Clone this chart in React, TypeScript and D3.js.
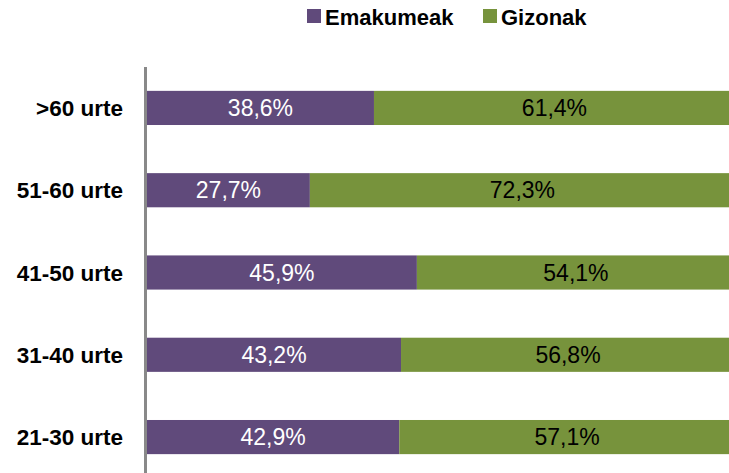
import React, { useEffect, useRef } from 'react';
import * as d3 from 'd3';

const categories = ['>60 urte', '51-60 urte', '41-50 urte', '31-40 urte', '21-30 urte'];
const emakumeak = [38.6, 27.7, 45.9, 43.2, 42.9];
const gizonak = [61.4, 72.3, 54.1, 56.8, 57.1];
const seriesNames = ['Emakumeak', 'Gizonak'];
const colors = ['#604A7B', '#77933C'];

const fmt = (v: number) => v.toFixed(1).replace('.', ',') + '%';

const App = () => {
  const svgRef = useRef<SVGSVGElement>(null);

  useEffect(() => {
    const svg = d3.select(svgRef.current);
    svg.selectAll('*').remove();

    const height = 473;
    const font = 'Liberation Sans, Arial, sans-serif';

    const x = d3.scaleLinear().domain([0, 100]).range([147, 735]);
    const y = d3.scaleBand()
      .domain(categories)
      .range([67, 478])
      .paddingInner(0.585)
      .paddingOuter(0.29);

    const rows = categories.map((c, i) => ({ cat: c, a: emakumeak[i], b: gizonak[i] }));

    const g = svg.append('g');

    // purple segment
    g.selectAll('rect.a')
      .data(rows)
      .enter().append('rect')
      .attr('class', 'a')
      .attr('x', x(0))
      .attr('y', d => y(d.cat)!)
      .attr('width', d => x(d.a) - x(0))
      .attr('height', y.bandwidth())
      .attr('fill', colors[0]);

    // green segment
    g.selectAll('rect.b')
      .data(rows)
      .enter().append('rect')
      .attr('class', 'b')
      .attr('x', d => x(d.a))
      .attr('y', d => y(d.cat)!)
      .attr('width', d => x(d.a + d.b) - x(d.a))
      .attr('height', y.bandwidth())
      .attr('fill', colors[1]);

    // value labels
    g.selectAll('text.la')
      .data(rows)
      .enter().append('text')
      .attr('x', d => (x(0) + x(d.a)) / 2)
      .attr('y', d => y(d.cat)! + y.bandwidth() / 2)
      .attr('dy', '0.36em')
      .attr('text-anchor', 'middle')
      .attr('fill', '#fff')
      .style('font-family', font)
      .style('font-size', '23px')
      .text(d => fmt(d.a));

    g.selectAll('text.lb')
      .data(rows)
      .enter().append('text')
      .attr('x', d => (x(d.a) + x(d.a + d.b)) / 2)
      .attr('y', d => y(d.cat)! + y.bandwidth() / 2)
      .attr('dy', '0.36em')
      .attr('text-anchor', 'middle')
      .attr('fill', '#000')
      .style('font-family', font)
      .style('font-size', '23px')
      .text(d => fmt(d.b));

    // category labels
    g.selectAll('text.cat')
      .data(categories)
      .enter().append('text')
      .attr('x', 123)
      .attr('y', d => y(d)! + y.bandwidth() / 2)
      .attr('dy', '0.36em')
      .attr('text-anchor', 'end')
      .attr('fill', '#000')
      .style('font-family', font)
      .style('font-size', '22.5px')
      .style('font-weight', 'bold')
      .text(d => d);

    // axis line
    svg.append('line')
      .attr('x1', 145.5)
      .attr('x2', 145.5)
      .attr('y1', 67)
      .attr('y2', height)
      .attr('stroke', '#898989')
      .attr('stroke-width', 3);

    // legend
    const legendX = [307, 483];
    const legend = svg.append('g');
    seriesNames.forEach((name, i) => {
      legend.append('rect')
        .attr('x', legendX[i])
        .attr('y', 9)
        .attr('width', 14)
        .attr('height', 14)
        .attr('fill', colors[i]);
      legend.append('text')
        .attr('x', legendX[i] + 18)
        .attr('y', 17)
        .attr('dy', '0.36em')
        .attr('fill', '#000')
        .style('font-family', font)
        .style('font-size', '22px')
        .style('font-weight', 'bold')
        .text(name);
    });
  }, []);

  return (
    <svg ref={svgRef} width={729} height={473} style={{ position: 'absolute', left: 0, top: 0 }}></svg>
  );
};

export default App;
